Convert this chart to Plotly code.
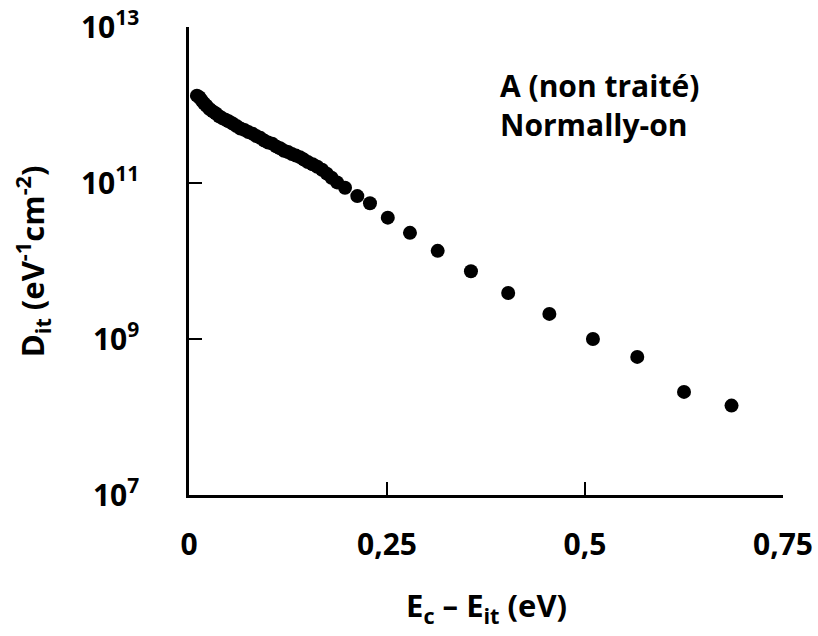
import plotly.graph_objects as go

# Energy below conduction band (eV)
energy = [0.010, 0.013, 0.016, 0.019, 0.022, 0.026, 0.030, 0.034, 0.038, 0.042,
          0.046, 0.050, 0.055, 0.060, 0.065, 0.070, 0.075, 0.080, 0.085, 0.090,
          0.095, 0.100, 0.105, 0.110, 0.115, 0.120, 0.125, 0.130, 0.135, 0.140,
          0.145, 0.150, 0.156, 0.162, 0.168, 0.174, 0.180, 0.187, 0.197, 0.2125,
          0.2285, 0.251, 0.279, 0.314, 0.356, 0.403, 0.455, 0.510, 0.566, 0.625,
          0.685]
# Interface trap density (eV^-1 cm^-2)
dit = [1.32e12, 1.26e12, 1.15e12, 1.05e12, 9.8e11, 8.9e11, 8.3e11, 7.8e11, 7.2e11, 6.8e11,
       6.5e11, 6.2e11, 5.8e11, 5.4e11, 5.0e11, 4.8e11, 4.5e11, 4.3e11, 4.0e11, 3.8e11,
       3.5e11, 3.3e11, 3.2e11, 2.95e11, 2.8e11, 2.6e11, 2.5e11, 2.35e11, 2.25e11, 2.15e11,
       2.0e11, 1.86e11, 1.74e11, 1.62e11, 1.48e11, 1.32e11, 1.17e11, 1.02e11, 8.7e10, 6.8e10,
       5.5e10, 3.6e10, 2.3e10, 1.35e10, 7.4e9, 3.9e9, 2.1e9, 1.0e9, 5.9e8, 2.1e8,
       1.4e8]

x_tickvals = [0, 0.25, 0.5, 0.75]
x_ticktext = ["0", "0,25", "0,5", "0,75"]
y_tickvals = [1e7, 1e9, 1e11, 1e13]
y_ticktext = ["10<sup>7</sup>", "10<sup>9</sup>", "10<sup>11</sup>", "10<sup>13</sup>"]

FONT = "Open Sans"
FS = 30
FT = 31

fig = go.Figure()
fig.add_trace(go.Scatter(
    x=energy, y=dit, mode="markers",
    marker=dict(color="black", size=14, line=dict(width=0)),
    showlegend=False, cliponaxis=False,
))

fig.update_layout(
    width=818, height=636,
    margin=dict(l=189, r=35, t=27, b=141, autoexpand=False),
    paper_bgcolor="white", plot_bgcolor="white",
    font=dict(family=FONT, size=FS, color="black", weight="bold"),
    xaxis=dict(
        range=[0, 0.75], tickvals=x_tickvals, ticktext=x_ticktext,
        ticks="inside", ticklen=13, tickwidth=2, tickcolor="black",
        showline=True, linecolor="black", linewidth=2.5, mirror=False,
        showgrid=False, zeroline=False, ticklabeloverflow="allow", automargin=False,
        tickfont=dict(family=FONT, size=FS, color="black", weight="bold"),
        ticklabelstandoff=21,
    ),
    yaxis=dict(
        type="log", range=[7, 13.001], tickvals=y_tickvals, ticktext=y_ticktext,
        ticks="inside", ticklen=13, tickwidth=2, tickcolor="black",
        showline=True, linecolor="black", linewidth=2.5, mirror=False,
        showgrid=False, zeroline=False, ticklabeloverflow="allow", automargin=False,
        tickfont=dict(family=FONT, size=FS, color="black", weight="bold"),
        ticklabelstandoff=41,
    ),
    annotations=[
        dict(text="E<sub>c</sub> – E<sub>it</sub> (eV)", xref="paper", yref="paper",
             x=0.5, y=-0.239, xanchor="center", yanchor="middle", showarrow=False,
             font=dict(family=FONT, size=FT, color="black", weight="bold")),
        dict(text="D<sub>it</sub> (eV<sup>-1</sup>cm<sup>-2</sup>)", xref="paper", yref="paper",
             x=-0.264, y=0.5, xanchor="center", yanchor="middle", showarrow=False, textangle=-90,
             font=dict(family=FONT, size=FT, color="black", weight="bold")),
        dict(text="A (non traité)<br>Normally-on", xref="paper", yref="paper",
             x=0.52, y=0.833, xanchor="left", yanchor="middle", showarrow=False, align="left",
             font=dict(family=FONT, size=FS, color="black", weight="bold")),
    ],
)

# remove the browser's default 8px body margin so the figure fills the window
fig.write_html("out.html", config={"displayModeBar": False},
               post_script="document.body.style.margin='0px';")
